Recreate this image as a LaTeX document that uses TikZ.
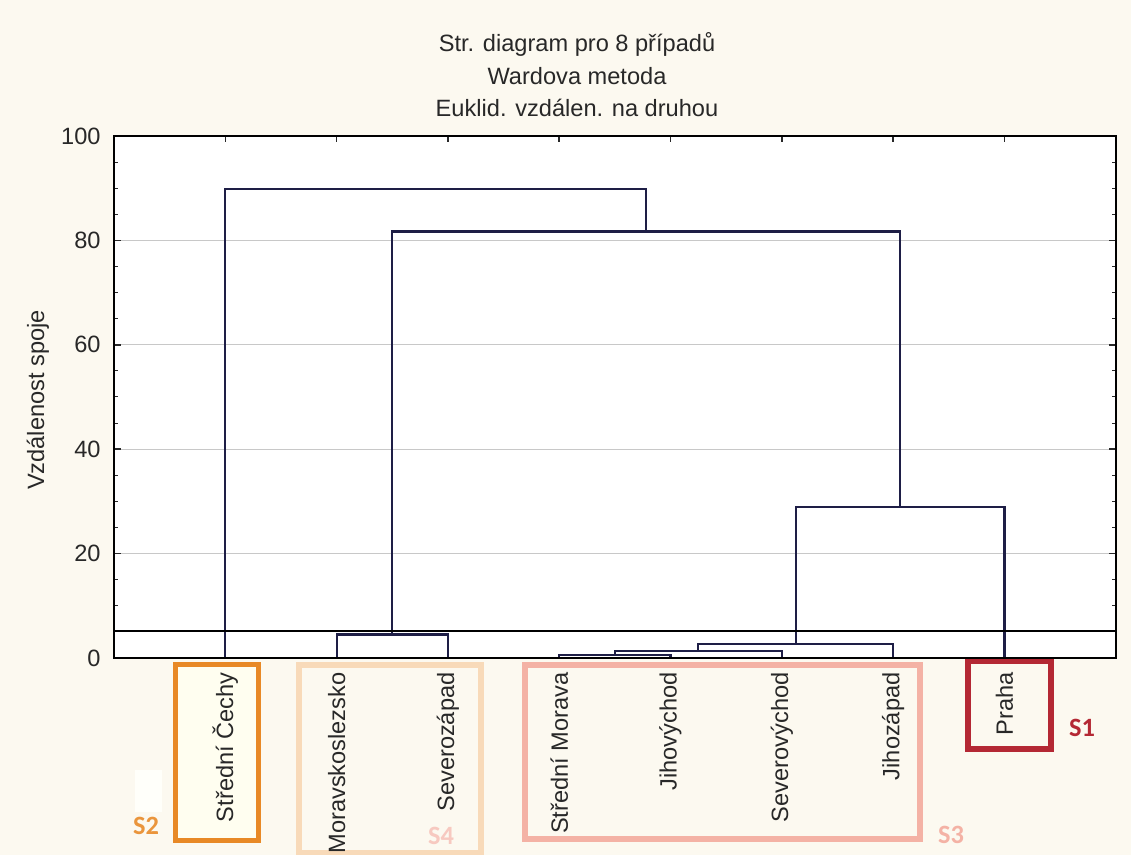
\documentclass[tikz,border=0pt]{standalone}
\usepackage{fontspec}
\setmainfont{Liberation Sans}
\newfontfamily\tagfont{Carlito}
\usepackage{xcolor}
\usepackage{tikz}

\definecolor{bgcream}{RGB}{252,249,240}
\definecolor{inkgray}{RGB}{40,40,40}
\definecolor{navy}{RGB}{30,30,70}
\definecolor{gridgray}{RGB}{200,200,200}
\definecolor{sone}{RGB}{180,40,52}
\definecolor{stwo}{RGB}{232,137,38}
\definecolor{sthree}{RGB}{244,178,165}
\definecolor{sfour}{RGB}{248,218,185}

\tikzset{
  txt/.style={font=\fontsize{11.8pt}{16.25pt}\selectfont, text=inkgray},
  leaf/.style={txt, rotate=90, anchor=east, inner sep=0pt},
  ticklab/.style={txt, anchor=east, inner sep=0pt},
  dendro/.style={navy, line width=1.1pt},
  tagbox/.style={line width=2.8pt},
  tag/.style={font=\tagfont\bfseries\fontsize{13.2pt}{15pt}\selectfont}
}

\begin{document}
\begin{tikzpicture}[x=0.5pt, y=-0.5pt]
    \useasboundingbox (0,0) rectangle (1131,855);
    \fill[bgcream] (0,0) rectangle (1131,855);
    \node[txt, align=center] (title) at (577,75) {Str. diagram pro 8 případů\\Wardova metoda\\Euklid. vzdálen. na druhou};
    \node[txt, rotate=90] (ylab) at (38,400) {Vzdálenost spoje};
    \fill[white!98!yellow] (135,770) rectangle (162,812);
    \draw[tagbox, stwo, fill=white!94!yellow] (175.5,664.5) rectangle (258.5,840.5);
    \draw[tagbox, sfour] (299,665) rectangle (481,853);
    \draw[tagbox, sthree] (525,665) rectangle (920,839);
    \draw[tagbox, sone] (968,661) rectangle (1051,749);
    \node[tag, text=stwo!90!white] (stag2) at (146,826) {S2};
    \node[tag, text=sthree!70!white] (stag4) at (441,836) {S4};
    \node[tag, text=sthree] (stag3) at (951,835) {S3};
    \node[tag, text=sone] (stag1) at (1082,728) {S1};
    \begin{scope}[shift={(114,658)}, x=55.65pt, y=2.61pt]
    \fill[white] (0,0) rectangle (9,100);
    \foreach \v in {20,40,60,80}
        \draw[gridgray, line width=0.6pt] (0,\v) -- (9,\v);
    \foreach \v in {5,10,...,95} {
        \draw[inkgray, line width=0.5pt] (0,\v) -- ++(1.8pt,0pt);
        \draw[inkgray, line width=0.5pt] (9,\v) -- ++(-1.8pt,0pt);
    }
    \foreach \v in {0,20,...,100} {
        \draw[inkgray, line width=0.8pt] (0,\v) -- ++(3.5pt,0pt);
        \draw[inkgray, line width=0.8pt] (9,\v) -- ++(-3.5pt,0pt);
        \node[ticklab, xshift=-6.5pt] (y\v) at (0,\v) {\v};
    }
    \foreach \i in {1,...,8}
        \draw[inkgray, line width=0.8pt] (\i,100) -- ++(0pt,-3pt);
    \coordinate (cechy) at (1,0);
    \coordinate (morslez) at (2,0);
    \coordinate (sevzap) at (3,0);
    \coordinate (stmor) at (4,0);
    \coordinate (jihovych) at (5,0);
    \coordinate (sevvych) at (6,0);
    \coordinate (jihozap) at (7,0);
    \coordinate (praha) at (8,0);
    \coordinate (m1) at (4.5,0.5);
    \coordinate (m2) at (5.25,1.4);
    \coordinate (m3) at (6.125,2.7);
    \coordinate (m4) at (2.5,4.5);
    \coordinate (m5) at (7.0625,29);
    \coordinate (m6) at (4.78125,81.7);
    \coordinate (m7) at (2.890625,89.8);
    \draw[dendro] (stmor) |- (m1) -| (jihovych);
    \draw[dendro] (m1) |- (m2) -| (sevvych);
    \draw[dendro] (m2) |- (m3) -| (jihozap);
    \draw[dendro] (morslez) |- (m4) -| (sevzap);
    \draw[dendro] (m3) |- (m5) -| (praha);
    \draw[dendro] (m4) |- (m6) -| (m5);
    \draw[dendro] (cechy) |- (m7) -| (m6);
    \draw[black, line width=0.9pt] (0,5.2) -- (9,5.2);
    \draw[black, line width=1.1pt] (0,0) rectangle (9,100);
    \node[leaf] (tcechy) at (1,-2.7) {Střední Čechy};
    \node[leaf] (tmorslez) at (2,-2.7) {Moravskoslezsko};
    \node[leaf] (tsevzap) at (3,-2.7) {Severozápad};
    \node[leaf] (tstmor) at (4,-2.7) {Střední Morava};
    \node[leaf] (tjihovych) at (5,-2.7) {Jihovýchod};
    \node[leaf] (tsevvych) at (6,-2.7) {Severovýchod};
    \node[leaf] (tjihozap) at (7,-2.7) {Jihozápad};
    \node[leaf] (tpraha) at (8,-2.7) {Praha};
    \end{scope}
\end{tikzpicture}
\end{document}
